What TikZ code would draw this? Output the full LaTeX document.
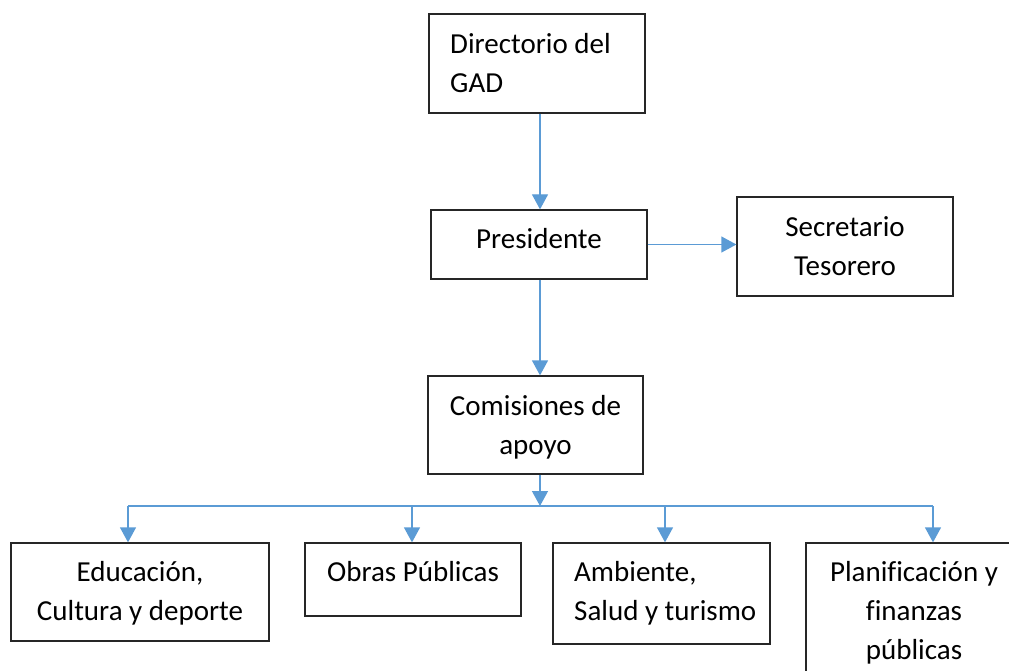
\documentclass[tikz,border=0pt]{standalone}
\usepackage{fontspec}
\setmainfont{Carlito}[Ligatures=CommonOff]
\usetikzlibrary{arrows.meta}
\definecolor{lineblue}{HTML}{5B9BD5}
\definecolor{boxline}{HTML}{262626}
\begin{document}
\begin{tikzpicture}[x=1pt,y=-1pt,
  box/.style={draw=boxline,line width=1.3pt,rectangle,inner sep=0pt},
  lbl/.style={inner sep=0pt,anchor=north,align=center,font=\fontsize{29}{39}\selectfont},
  lbll/.style={lbl,anchor=north west,align=left},
  link/.style={draw=lineblue,line width=1.3pt},
  conn/.style={link,-{Triangle[length=15pt,width=16pt]}}]
\useasboundingbox (0,0) rectangle (1009,671);
% boxes
\node[box,minimum width=216pt,minimum height=99pt] (dir) at (537,63.5) {};
\node[box,minimum width=216pt,minimum height=69pt] (pres) at (539,244.5) {};
\node[box,minimum width=216pt,minimum height=99pt] (sec) at (845,246.5) {};
\node[box,minimum width=215pt,minimum height=98pt] (com) at (535.5,425) {};
\node[box,minimum width=258pt,minimum height=98pt] (edu) at (140,592) {};
\node[box,minimum width=216pt,minimum height=73pt] (obr) at (413,579.5) {};
\node[box,minimum width=217pt,minimum height=101pt] (amb) at (661.5,593.5) {};
\node[box,minimum width=216pt,minimum height=157pt] (pla) at (914,621.5) {};
% texts
\node[lbll] (tdir) at (450,25.7) {\strut Directorio del\\\strut GAD};
\node[lbl] (tpres) at (539,220.7) {\strut Presidente};
\node[lbl] (tsec) at (845,208.7) {\strut Secretario\\\strut Tesorero};
\node[lbl] (tcom) at (535.5,387.7) {\strut Comisiones de\\\strut apoyo};
\node[lbl] (tedu) at (140,553.7) {\strut Educación,\\\strut Cultura y deporte};
\node[lbl] (tobr) at (413,553.7) {\strut Obras Públicas};
\node[lbll] (tamb) at (574,553.7) {\strut Ambiente,\\\strut Salud y turismo};
\node[lbl] (tpla) at (914,553.7) {\strut Planificación y\\\strut finanzas\\\strut públicas};
% connectors
\coordinate (j) at (540,506);
\coordinate (d1) at (128,506);
\coordinate (d2) at (412,506);
\coordinate (d3) at (665,506);
\coordinate (d4) at (933,506);
\draw[conn] (dir.south -| j) -- (pres.north -| j);
\draw[conn] (pres.east) -- (sec.west |- pres.east);
\draw[conn] (pres.south -| j) -- (com.north -| j);
\draw[conn] (com.south -| j) -- (j);
\draw[link] (d1) -- (d4);
\draw[conn] (d1) -- (d1 |- edu.north);
\draw[conn] (d2) -- (d2 |- obr.north);
\draw[conn] (d3) -- (d3 |- amb.north);
\draw[conn] (d4) -- (d4 |- pla.north);
\end{tikzpicture}
\end{document}
